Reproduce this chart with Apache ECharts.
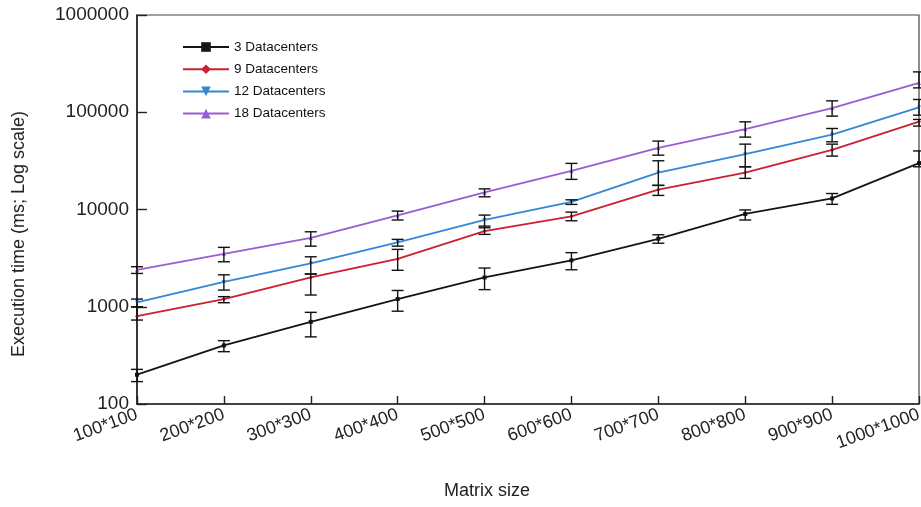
<!DOCTYPE html>
<html>
<head>
<meta charset="utf-8">
<style>
  html, body { margin: 0; padding: 0; background: #fff; overflow: hidden; }
  #chart { width: 921px; height: 507px; }
</style>
<script src="https://cdn.jsdelivr.net/npm/echarts@6/dist/echarts.min.js"></script>
</head>
<body>
<div id="chart"></div>
<script>
// Matrix sizes on the x axis
const categories = ['100*100', '200*200', '300*300', '400*400', '500*500',
  '600*600', '700*700', '800*800', '900*900', '1000*1000'];

// Decade ticks of the log-scaled y axis
const yTicks = [100, 1000, 10000, 100000, 1000000];

// Mean execution times (ms) and error-bar bounds per configuration
const dc3 = [200, 400, 700, 1200, 2000, 3000, 5000, 9000, 13000, 30000];
const dc3Low = [170, 345, 490, 900, 1500, 2400, 4500, 7800, 11300, 27500];
const dc3High = [227, 448, 876, 1470, 2500, 3600, 5500, 9900, 14600, 40000];

const dc9 = [800, 1200, 2000, 3100, 6000, 8500, 16000, 24000, 41000, 80000];
const dc9Low = [730, 1100, 1320, 2370, 5550, 7660, 13960, 20900, 35400, 72000];
const dc9High = [993, 1270, 2170, 3890, 6750, 9400, 17700, 27500, 47000, 84300];

const dc12 = [1110, 1800, 2800, 4600, 7800, 12000, 24000, 37000, 59000, 112000];
const dc12Low = [1000, 1485, 2170, 4200, 6490, 11280, 17700, 27500, 49650, 93300];
const dc12High = [1200, 2130, 3265, 4930, 8760, 12580, 31700, 47000, 68100, 135300];

const dc18 = [2400, 3500, 5100, 8700, 15000, 25000, 43000, 67000, 110000, 200000];
const dc18Low = [2200, 2900, 4200, 7800, 13500, 20400, 36200, 55500, 91200, 178000];
const dc18High = [2580, 4080, 5900, 9630, 16300, 29800, 50500, 79700, 131000, 260000];

const FONT = 'Liberation Sans, Arial, sans-serif';

const chart = echarts.init(document.getElementById('chart'), null, { renderer: 'canvas' });

function lineSeries(name, data, color, symbol, rotate) {
  return {
    name: name,
    type: 'line',
    data: data,
    symbol: symbol,
    symbolRotate: rotate || 0,
    symbolSize: 4,
    showSymbol: true,
    lineStyle: { color: color, width: 1.8 },
    itemStyle: { color: color },
    z: 3
  };
}

// Vertical error bar with horizontal caps
function renderErrorBar(params, api) {
  const idx = api.value(0);
  const top = api.coord([idx, api.value(2)]);
  const bottom = api.coord([idx, api.value(1)]);
  const hw = 6;
  const style = { stroke: '#111', lineWidth: 1.4 };
  return {
    type: 'group',
    children: [
      { type: 'line', shape: { x1: top[0], y1: top[1], x2: bottom[0], y2: bottom[1] }, style: style },
      { type: 'line', shape: { x1: top[0] - hw, y1: top[1], x2: top[0] + hw, y2: top[1] }, style: style },
      { type: 'line', shape: { x1: bottom[0] - hw, y1: bottom[1], x2: bottom[0] + hw, y2: bottom[1] }, style: style }
    ]
  };
}

function errorSeries(low, high) {
  return {
    type: 'custom',
    renderItem: renderErrorBar,
    data: categories.map((c, i) => [i, low[i], high[i]]),
    encode: { x: 0, y: [1, 2] },
    clip: false,
    silent: true,
    z: 4
  };
}

const option = {
  animation: false,
  backgroundColor: '#fff',
  textStyle: { fontFamily: FONT },
  grid: {
    left: 137, right: 2, top: 15, bottom: 103,
    outerBoundsMode: 'none',
    show: true, borderColor: '#444', borderWidth: 1.2, backgroundColor: 'transparent'
  },
  legend: {
    data: ['3 Datacenters', '9 Datacenters', '12 Datacenters', '18 Datacenters'],
    orient: 'vertical',
    left: 182,
    top: 40,
    padding: 0,
    itemWidth: 46,
    itemHeight: 12,
    itemGap: 8.2,
    textStyle: { fontFamily: FONT, fontSize: 13.5, color: '#111' }
  },
  xAxis: {
    type: 'category',
    data: categories,
    boundaryGap: false,
    axisLine: { lineStyle: { color: '#222', width: 1.6 } },
    axisTick: { inside: true, length: 8, lineStyle: { color: '#222', width: 1.4 } },
    axisLabel: {
      rotate: 20, fontSize: 18, color: '#222', fontFamily: FONT, margin: 10,
      interval: 0
    },
    splitLine: { show: false }
  },
  yAxis: {
    type: 'log',
    logBase: 10,
    min: yTicks[0],
    max: yTicks[yTicks.length - 1],
    axisLine: { show: true, lineStyle: { color: '#222', width: 1.6 } },
    axisTick: { show: true, inside: true, length: 10, lineStyle: { color: '#222', width: 1.4 } },
    minorTick: { show: false },
    axisLabel: {
      fontSize: 19, color: '#222', fontFamily: FONT, margin: 8,
      formatter: (v) => String(Math.round(v))
    },
    splitLine: { show: false }
  },
  graphic: [
    {
      type: 'text', x: 19, y: 234, rotation: Math.PI / 2,
      style: {
        text: 'Execution time (ms; Log scale)', font: '18px ' + FONT,
        fill: '#222', textAlign: 'center', textVerticalAlign: 'middle'
      }
    },
    {
      type: 'text', x: 487, y: 491,
      style: {
        text: 'Matrix size', font: '18px ' + FONT,
        fill: '#222', textAlign: 'center', textVerticalAlign: 'middle'
      }
    }
  ],
  series: [
    lineSeries('3 Datacenters', dc3, '#151515', 'rect'),
    lineSeries('9 Datacenters', dc9, '#cc1f2f', 'diamond'),
    lineSeries('12 Datacenters', dc12, '#3586d6', 'triangle', 180),
    lineSeries('18 Datacenters', dc18, '#9a5cd3', 'triangle'),
    errorSeries(dc3Low, dc3High),
    errorSeries(dc9Low, dc9High),
    errorSeries(dc12Low, dc12High),
    errorSeries(dc18Low, dc18High)
  ]
};

chart.setOption(option);
</script>
</body>
</html>
